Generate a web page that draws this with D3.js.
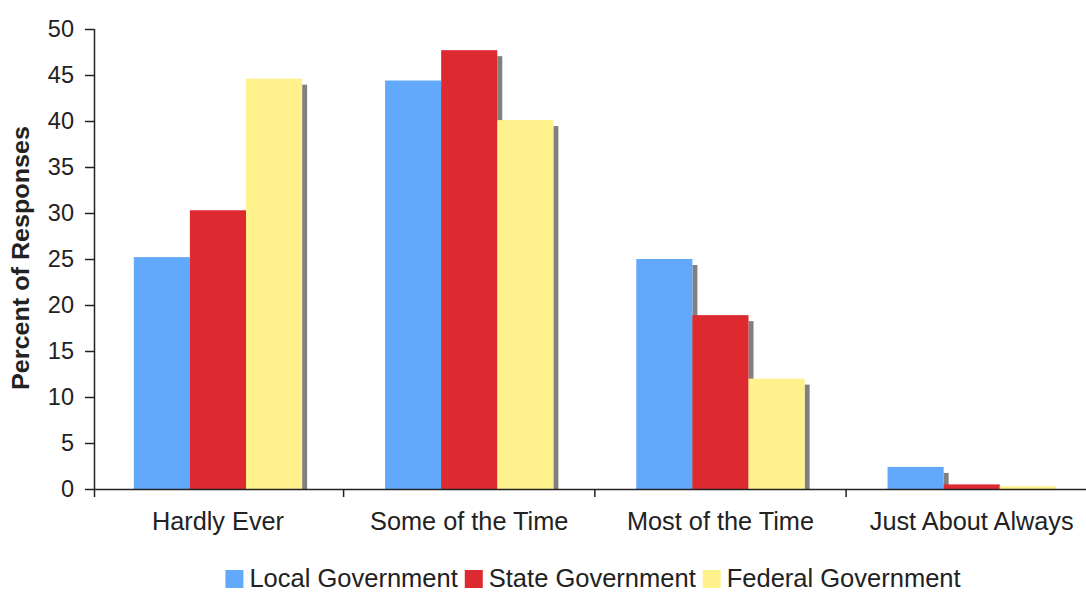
<!DOCTYPE html>
<html>
<head>
<meta charset="utf-8">
<script src="https://cdn.jsdelivr.net/npm/d3@7"></script>
<style>
  html, body { margin: 0; padding: 0; background: #ffffff; }
  svg { display: block; font-family: "Liberation Sans", Arial, sans-serif; }
</style>
</head>
<body>
<svg id="chart" width="1086" height="592"></svg>
<script>
// Survey responses: how often each level of government can be trusted
const categories = ["Hardly Ever", "Some of the Time", "Most of the Time", "Just About Always"];
const seriesNames = ["Local Government", "State Government", "Federal Government"];
const localValues = [25.2, 44.4, 25.0, 2.4];
const stateValues = [30.3, 47.7, 18.9, 0.5];
const federalValues = [44.6, 40.1, 12.0, 0.3];
const yTicks = [0, 5, 10, 15, 20, 25, 30, 35, 40, 45, 50];
const colors = ["#62a8fb", "#dd2a30", "#fff18c"];

const series = [localValues, stateValues, federalValues];

const svg = d3.select("#chart");
const W = 1086;
const plotLeft = 94, plotTop = 29, plotBottom = 489, plotRight = 1099;
const ink = "#222222";

const x0 = d3.scaleBand()
  .domain(categories)
  .range([plotLeft, plotRight])
  .paddingInner(0.33)
  .paddingOuter(0.165)
  .align(0.48);
const x1 = d3.scaleBand()
  .domain(seriesNames)
  .range([0, x0.bandwidth()]);
const y = d3.scaleLinear().domain([0, 50]).range([plotBottom, plotTop]);

// Bars with a drop shadow on the right; each following bar covers the previous shadow
const shadowDx = 5, shadowDy = 6;
const groups = svg.append("g").selectAll("g")
  .data(categories)
  .join("g")
  .attr("transform", d => `translate(${x0(d)},0)`);

categories.forEach((cat, ci) => {
  const g = groups.filter(d => d === cat);
  seriesNames.forEach((name, si) => {
    const v = series[si][ci];
    const bx = x1(name), bw = x1.bandwidth();
    const yTop = y(v);
    const sTop = Math.min(yTop + shadowDy, plotBottom);
    g.append("rect")
      .attr("x", bx + bw)
      .attr("y", sTop)
      .attr("width", shadowDx)
      .attr("height", plotBottom - sTop)
      .attr("fill", "#808080");
    g.append("rect")
      .attr("x", bx)
      .attr("y", yTop)
      .attr("width", bw)
      .attr("height", plotBottom - yTop)
      .attr("fill", colors[si]);
  });
});

// Y axis
const yAxis = d3.axisLeft(y)
  .tickValues(yTicks)
  .tickSize(9)
  .tickPadding(11)
  .tickFormat(d3.format("d"));
const gy = svg.append("g")
  .attr("transform", `translate(${plotLeft},0)`)
  .call(yAxis);
gy.select(".domain").attr("stroke", ink).attr("stroke-width", 1.5).attr("d", `M0.5,${plotTop}V${plotBottom + 8}`);
gy.selectAll(".tick line").attr("stroke", ink).attr("stroke-width", 1.5);
gy.selectAll(".tick text")
  .attr("fill", ink)
  .style("font-size", "23.5px")
  .style("font-family", "'Liberation Sans', Arial, sans-serif");

// X axis line with ticks between categories
const gapHalf = x0.step() * x0.paddingInner() / 2;
svg.append("line")
  .attr("x1", plotLeft).attr("x2", W)
  .attr("y1", plotBottom + 0.5).attr("y2", plotBottom + 0.5)
  .attr("stroke", ink).attr("stroke-width", 1.5);
svg.append("g").selectAll("line")
  .data(categories.slice(1))
  .join("line")
  .attr("x1", d => x0(d) - gapHalf)
  .attr("x2", d => x0(d) - gapHalf)
  .attr("y1", plotBottom)
  .attr("y2", plotBottom + 8)
  .attr("stroke", ink).attr("stroke-width", 1.5);

// Category labels
svg.append("g").selectAll("text")
  .data(categories)
  .join("text")
  .attr("x", d => x0(d) + x0.bandwidth() / 2)
  .attr("y", 530)
  .attr("text-anchor", "middle")
  .attr("fill", ink)
  .style("font-size", "25.3px")
  .text(d => d);

// Y axis title
svg.append("text")
  .attr("transform", `translate(29,258) rotate(-90)`)
  .attr("text-anchor", "middle")
  .attr("fill", ink)
  .attr("textLength", 264)
  .attr("lengthAdjust", "spacingAndGlyphs")
  .style("font-size", "23px")
  .style("font-weight", "bold")
  .text("Percent of Responses");

// Legend
const legend = svg.append("g");
let lx = 0;
seriesNames.forEach((name, i) => {
  const item = legend.append("g").attr("transform", `translate(${lx},0)`);
  item.append("rect")
    .attr("x", 0).attr("y", 570)
    .attr("width", 18).attr("height", 18)
    .attr("fill", colors[i]);
  const t = item.append("text")
    .attr("x", 24).attr("y", 587)
    .attr("fill", ink)
    .style("font-size", "25.5px")
    .text(name);
  const w = t.node().getComputedTextLength();
  lx += 24 + w + 7;
});
const legendWidth = lx - 7;
legend.attr("transform", `translate(${593 - legendWidth / 2},0)`);
</script>
</body>
</html>
